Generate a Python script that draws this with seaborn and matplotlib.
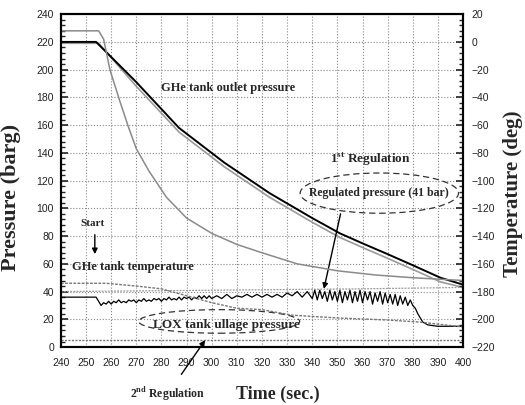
import matplotlib
matplotlib.use("Agg")
import matplotlib.pyplot as plt
import seaborn as sns
from matplotlib.patches import Ellipse
from matplotlib.ticker import MultipleLocator

# --- datos (tiempo en s, presion en barg, temperatura en deg) ---
out_t = [240, 254, 270, 287, 305, 323, 340, 351, 361, 370, 380, 391, 400]
out_p = [220, 220, 191, 158, 133, 111, 93, 82, 74, 67, 59, 50, 45]

out2_t = [240, 255, 270, 287, 305, 323, 340, 351, 361, 370, 380, 391, 400]
out2_p = [219, 219, 188, 155, 130, 108, 90, 79, 71, 64, 56, 47, 43]

gas_t = [240, 255, 257, 259.5, 263.5, 267, 270, 275, 282, 290, 300, 310, 320, 334, 350, 365, 380, 400]
gas_temp = [8, 8, 2, -20, -43, -62, -77, -93, -112, -127, -138, -146, -152, -160, -165, -168, -170, -172]

tank_t = [240, 258, 270, 280, 290, 300, 310, 320, 332, 350, 370, 383, 400]
tank_temp = [-174, -174, -176, -178, -183, -188, -192, -193, -197, -199, -200.5, -202, -205.5]

ref_t = [240, 300, 360, 400]
ref_p = [40, 41, 42, 43]

reg_t = [240, 254, 255, 256, 257, 258, 259, 260, 261, 262, 263, 264, 265, 266, 267, 268, 269, 270,
         271, 272, 273, 274, 275, 276, 277, 278, 279, 280, 281, 282, 283, 284, 285, 286, 287, 288,
         289, 290, 291, 292, 293, 294, 295, 296, 297, 298, 299, 300, 302, 304, 306, 308, 310,
         312, 314, 316, 318, 320, 322, 324, 326, 328, 330, 332, 334, 336, 338, 340,
         341, 342, 343, 344, 345, 346, 347, 348, 349, 350, 351, 352, 353, 354, 355, 356, 357, 358,
         359, 360, 361, 362, 363, 364, 365, 366, 367, 368, 369, 370, 371, 372, 373, 374, 375, 376,
         377, 378, 379, 380, 381, 382, 384, 386, 390, 400]
reg_p = [36, 36, 33,
         30, 32, 31, 33, 31, 33, 32, 34, 32, 33, 32, 34, 33, 34, 32, 34, 33, 35, 33, 34, 33,
         35, 34, 35, 33, 35, 34, 36, 34, 35, 34, 36, 34, 36, 35, 36, 34, 36, 35, 37, 35,
         37, 35, 37, 35, 37, 35, 38, 35, 37, 36, 38, 36, 38, 36, 38, 36, 38, 36, 39, 37,
         40, 36, 40, 35, 41, 34, 41, 35, 40, 33, 41, 34, 40, 33, 41, 32, 40, 34, 41, 32,
         40, 33, 41, 32, 40, 34, 40, 31, 39, 33, 40, 31, 39, 32, 38, 31, 38, 30, 37, 31,
         36, 30, 34, 30, 28, 24, 18, 16, 15, 15]

lox_t = [240, 300, 400]
lox_p = [5, 5, 5]

x_ticks = [240, 250, 260, 270, 280, 290, 300, 310, 320, 330, 340, 350, 360, 370, 380, 390, 400]
p_ticks = [0, 20, 40, 60, 80, 100, 120, 140, 160, 180, 200, 220, 240]
t_ticks = [-220, -200, -180, -160, -140, -120, -100, -80, -60, -40, -20, 0, 20]

# --- estilo ---
sns.set_style("white")
plt.rcParams['font.family'] = ['Liberation Serif', 'DejaVu Sans']
plt.rcParams['mathtext.fontset'] = 'custom'
plt.rcParams['mathtext.rm'] = 'Liberation Serif:bold'
plt.rcParams['mathtext.bf'] = 'Liberation Serif:bold'

fig = plt.figure(figsize=(5.25, 4.05), dpi=100)
ax = fig.add_axes([0.116, 0.143, 0.766, 0.822])
ax2 = ax.twinx()

# --- lineas ---
sns.lineplot(x=ref_t, y=ref_p, ax=ax, color='#999999', lw=0.9, ls=(0, (1.5, 1)), estimator=None, sort=False)
sns.lineplot(x=lox_t, y=lox_p, ax=ax, color='#777777', lw=1.0, ls=(0, (1.5, 1)), estimator=None, sort=False)
sns.lineplot(x=out2_t, y=out2_p, ax=ax, color='#9a9a9a', lw=1.2, estimator=None, sort=False)
sns.lineplot(x=out_t, y=out_p, ax=ax, color='black', lw=1.4, estimator=None, sort=False)
sns.lineplot(x=reg_t, y=reg_p, ax=ax, color='black', lw=0.9, estimator=None, sort=False)
sns.lineplot(x=gas_t, y=gas_temp, ax=ax2, color='#8a8a8a', lw=1.1, estimator=None, sort=False)
sns.lineplot(x=tank_t, y=tank_temp, ax=ax2, color='#777777', lw=1.0, ls=(0, (2, 1)), estimator=None, sort=False)

# --- ejes ---
ax.set_xlim(240, 400)
ax.set_ylim(0, 240)
ax2.set_ylim(-220, 20)
ax.set_xticks(x_ticks)
ax.set_yticks(p_ticks)
ax2.set_yticks(t_ticks)
ax.xaxis.set_minor_locator(MultipleLocator(2))
ax.yaxis.set_minor_locator(MultipleLocator(4))
ax2.yaxis.set_minor_locator(MultipleLocator(4))

ax.grid(True, which='major', linestyle=':', linewidth=0.8, color='#888888')
for a in (ax, ax2):
    for s in a.spines.values():
        s.set_linewidth(1.5)
        s.set_color('black')
ax.tick_params(axis='both', which='major', direction='in', length=5, width=1.2,
               labelsize=7.5, labelfontfamily='Liberation Sans', colors='#222222')
ax.tick_params(axis='both', which='minor', direction='in', length=3, width=1.0)
ax.tick_params(axis='x', which='major', pad=8)
ax.tick_params(axis='y', which='major', pad=5)
ax2.tick_params(axis='y', which='major', direction='in', length=5, width=1.2,
                labelsize=7.5, labelfontfamily='Liberation Sans', colors='#222222', pad=6)
ax2.tick_params(axis='y', which='minor', direction='in', length=3, width=1.0)

ax.set_xlabel('Time (sec.)', fontsize=13, fontweight='bold')
ax.xaxis.set_label_coords(0.54, -0.117)
ax.set_ylabel('Pressure (barg)', fontsize=16, fontweight='bold')
ax.yaxis.set_label_coords(-0.1, 0.45)
ax2.set_ylabel('Temperature (deg)', fontsize=15, fontweight='bold', rotation=90)
ax2.yaxis.set_label_coords(1.1, 0.46)

# --- textos y anotaciones ---
ax.text(306.5, 187, 'GHe tank outlet pressure', fontsize=9, fontweight='bold', ha='center', va='center')
ax.text(363, 135.5, r'1$^{\rm st}$ Regulation', fontsize=9.5, fontweight='bold', ha='center', va='center')
ax.text(366.7, 111, 'Regulated pressure (41 bar)', fontsize=8.5, fontweight='bold', ha='center', va='center')
ax.add_patch(Ellipse((366.7, 111), 63, 29, fill=False, ls=(0, (5, 3)), lw=0.9, ec='#333333'))
ax.annotate('', xy=(344.4, 40), xytext=(351.5, 98),
            arrowprops=dict(arrowstyle='-|>', color='black', lw=1.0, mutation_scale=8))

ax.text(252.7, 89, 'Start', fontsize=8, fontweight='bold', ha='center', va='center')
ax.annotate('', xy=(253.5, 65), xytext=(253.5, 83),
            arrowprops=dict(arrowstyle='-|>', color='black', lw=1.0, mutation_scale=8))
ax.text(268.7, 58, 'GHe tank temperature', fontsize=9, fontweight='bold', ha='center', va='center')

ax.text(306, 16, 'LOX tank ullage pressure', fontsize=9.5, fontweight='bold', ha='center', va='center')
ax.add_patch(Ellipse((303, 18.5), 64, 17, fill=False, ls=(0, (5, 3)), lw=0.9, ec='#333333'))

ax.annotate(r'2$^{\rm nd}$ Regulation', xy=(297.4, 5), xytext=(282.6, -33.5),
            fontsize=8.5, fontweight='bold', ha='center', va='center', annotation_clip=False,
            arrowprops=dict(arrowstyle='-|>', color='black', lw=1.0, mutation_scale=8,
                            shrinkA=6, shrinkB=0))

fig.savefig('out.png', dpi=100, facecolor='white')
